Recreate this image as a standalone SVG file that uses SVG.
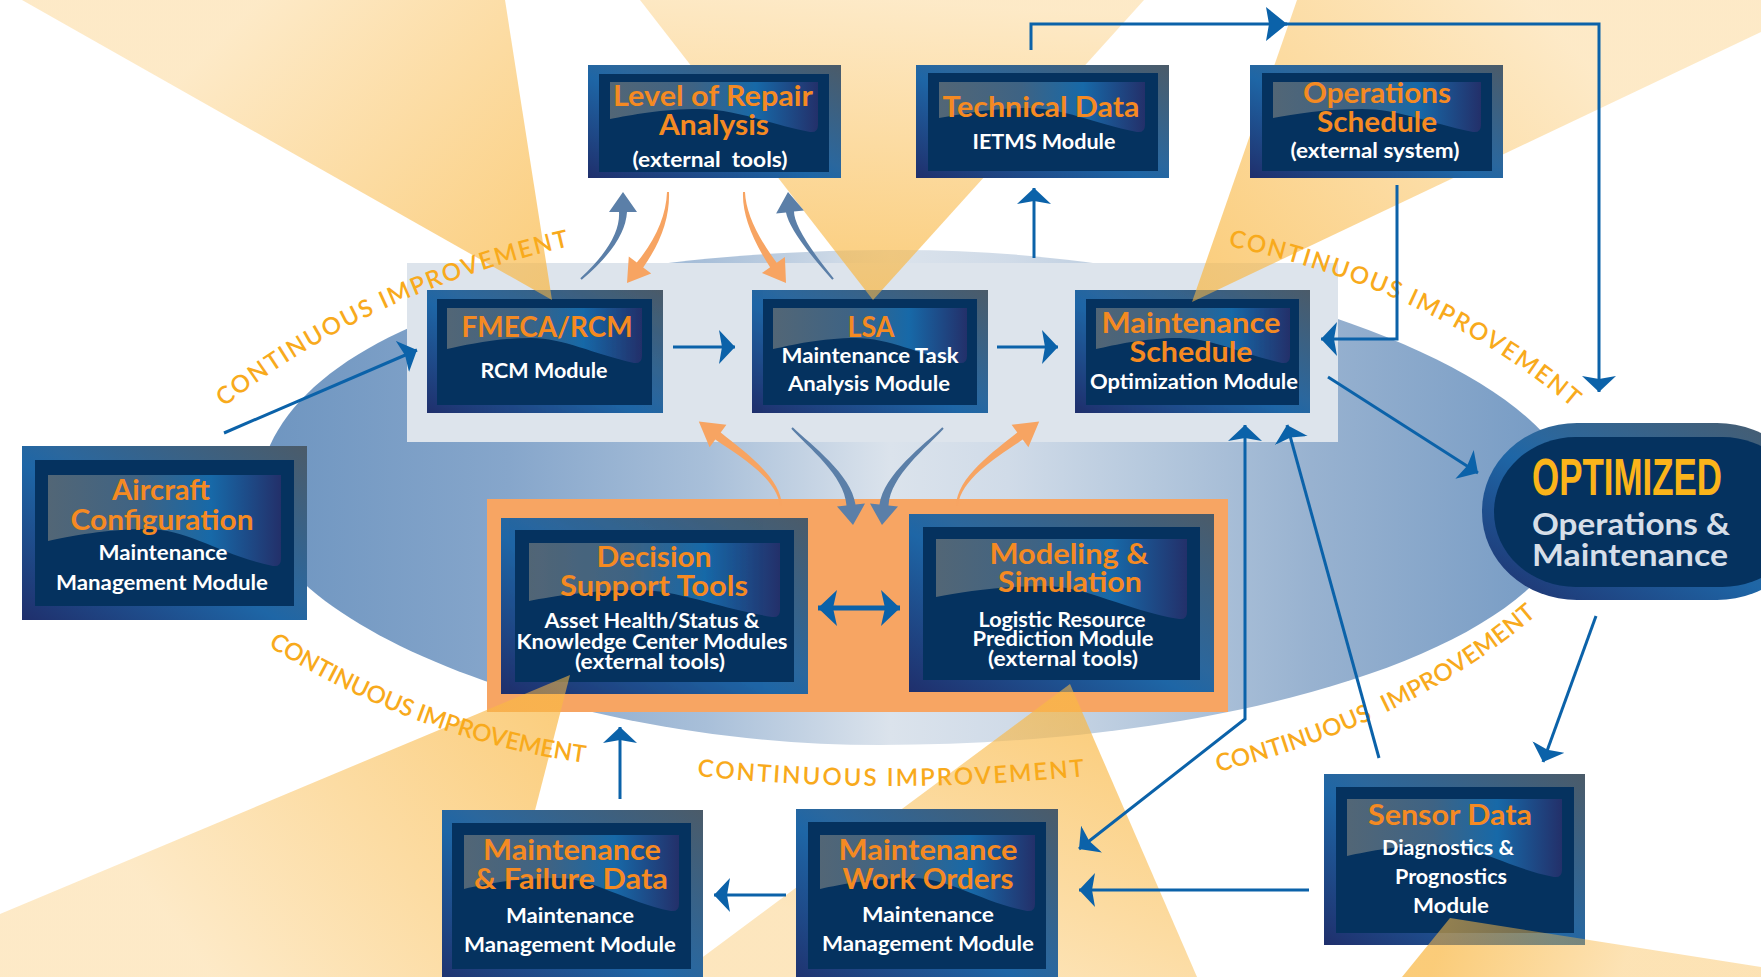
<svg xmlns="http://www.w3.org/2000/svg" width="1761" height="977" viewBox="0 0 1761 977">
<defs>
<style>
.t{font-family:Lato,"Open Sans","Liberation Sans",sans-serif;font-weight:700;text-anchor:middle}
.ti{fill:#f58a22;font-size:28px}
.sb{fill:#ffffff;font-size:21px}
.ci{fill:#f8aa1c;font-family:Lato,"Open Sans","Liberation Sans",sans-serif;font-size:24px;font-weight:600}
.fr{fill:url(#gF)}
.in{fill:#05325f}
.bn{fill:url(#gB)}
.ln{fill:none;stroke:#0b62a9;stroke-width:3}
.cb{fill:#5b7fa8}
.co{fill:#f7a462}
</style>
<linearGradient id="gF" x1="1" y1="0" x2="0" y2="1">
<stop offset="0" stop-color="#4b5b69"/><stop offset="0.45" stop-color="#2b679d"/><stop offset="0.55" stop-color="#1e66a6"/><stop offset="1" stop-color="#1f2f6c"/>
</linearGradient>
<linearGradient id="gB" x1="0" y1="0" x2="1" y2="0">
<stop offset="0" stop-color="#526676"/><stop offset="0.4" stop-color="#3e6384"/><stop offset="0.7" stop-color="#1769a8"/><stop offset="1" stop-color="#23306a"/>
</linearGradient>
<linearGradient id="gE" gradientUnits="userSpaceOnUse" x1="258" y1="0" x2="1575" y2="0">
<stop offset="0" stop-color="#6e95c0"/><stop offset="0.19" stop-color="#86a6cb"/><stop offset="0.34" stop-color="#a8bfd9"/><stop offset="0.48" stop-color="#dbe3ec"/><stop offset="0.57" stop-color="#d0dbe8"/><stop offset="0.68" stop-color="#b5c8dd"/><stop offset="0.8" stop-color="#98b2d0"/><stop offset="1" stop-color="#7399c3"/>
</linearGradient>
<linearGradient id="bA" gradientUnits="userSpaceOnUse" x1="552" y1="300" x2="260" y2="0"><stop offset="0" stop-color="#f9b845" stop-opacity="0.72"/><stop offset="1" stop-color="#f9b845" stop-opacity="0.3"/></linearGradient>
<linearGradient id="bB" gradientUnits="userSpaceOnUse" x1="873" y1="300" x2="892" y2="0"><stop offset="0" stop-color="#f9b845" stop-opacity="0.72"/><stop offset="1" stop-color="#f9b845" stop-opacity="0.3"/></linearGradient>
<linearGradient id="bC" gradientUnits="userSpaceOnUse" x1="1192" y1="302" x2="1529" y2="0"><stop offset="0" stop-color="#f9b845" stop-opacity="0.72"/><stop offset="1" stop-color="#f9b845" stop-opacity="0.3"/></linearGradient>
<linearGradient id="bD" gradientUnits="userSpaceOnUse" x1="570" y1="675" x2="200" y2="960"><stop offset="0" stop-color="#f9b845" stop-opacity="0.72"/><stop offset="1" stop-color="#f9b845" stop-opacity="0.3"/></linearGradient>
<linearGradient id="bE" gradientUnits="userSpaceOnUse" x1="1070" y1="684" x2="936" y2="977"><stop offset="0" stop-color="#f9b845" stop-opacity="0.72"/><stop offset="1" stop-color="#f9b845" stop-opacity="0.35"/></linearGradient>
<linearGradient id="bF" gradientUnits="userSpaceOnUse" x1="1450" y1="918" x2="1620" y2="977"><stop offset="0" stop-color="#f9b845" stop-opacity="0.72"/><stop offset="1" stop-color="#f9b845" stop-opacity="0.4"/></linearGradient>
<clipPath id="tgt">
<rect x="427" y="290" width="236" height="123"/><rect x="752" y="290" width="236" height="123"/><rect x="1075" y="290" width="235" height="123"/>
<rect x="501" y="518" width="307" height="176"/><rect x="909" y="514" width="305" height="178"/><rect x="1324" y="774" width="261" height="171"/>
</clipPath>
<marker id="ah" viewBox="0 0 16 34" refX="16" refY="17" markerWidth="16" markerHeight="34" orient="auto-start-reverse" markerUnits="userSpaceOnUse"><path d="M0,0 L16,17 L0,34 L3,17 Z" fill="#0b62a9"/></marker>
<marker id="ahL" viewBox="0 0 21 34" refX="21" refY="17" markerWidth="21" markerHeight="34" orient="auto" markerUnits="userSpaceOnUse"><path d="M0,0 L21,17 L0,34 L3,17 Z" fill="#0b62a9"/></marker>
<marker id="ahB" viewBox="0 0 19 36" refX="19" refY="18" markerWidth="19" markerHeight="36" orient="auto-start-reverse" markerUnits="userSpaceOnUse"><path d="M0,0 L19,18 L0,36 L4,18 Z" fill="#0b62a9"/></marker>
<path id="p1" d="M224,407 Q370,292 570,246 L620,234.5"/>
<path id="p2" d="M1228,246 Q1430,289 1568,404 L1606,436"/>
<path id="p3" d="M268,646 Q418,740 585,763 L635,770"/>
<path id="p4" d="M697,776 Q891,796 1085,776 L1135,771"/>
<path id="p5" d="M1218,772 Q1412,724 1540,612 L1578,579"/>
</defs>

<rect x="0" y="0" width="1761" height="977" fill="#ffffff"/>

<g id="background">
<path d="M258,500 C258,360 480,250 900,250 C1250,250 1575,380 1575,500 C1575,640 1250,745 880,745 C560,745 258,620 258,500 Z" fill="url(#gE)"/>
<rect x="407" y="263" width="931" height="179" fill="#dde4ec"/>
<rect x="487" y="499" width="741" height="213" fill="#f7a563"/>
</g>

<g id="beams">
<polygon points="22,0 505,0 552,300" fill="url(#bA)"/>
<polygon points="640,0 1144,0 873,300" fill="url(#bB)"/>
<polygon points="1297,0 1761,0 1761,32 1192,302" fill="url(#bC)"/>
<polygon points="570,675 0,914 0,977 492,977" fill="url(#bD)"/>
<polygon points="1070,684 676,977 1197,977" fill="url(#bE)"/>
<polygon points="1450,918 1402,977 1761,977 1761,967" fill="url(#bF)"/>
</g>

<g id="labels">
<text class="ci" letter-spacing="1.9"><textPath href="#p1">CONTINUOUS IMPROVEMENT</textPath></text>
<text class="ci" letter-spacing="1.9"><textPath href="#p2">CONTINUOUS IMPROVEMENT</textPath></text>
<text class="ci" letter-spacing="-0.2"><textPath href="#p3">CONTINUOUS IMPROVEMENT</textPath></text>
<text class="ci" letter-spacing="2.1"><textPath href="#p4">CONTINUOUS IMPROVEMENT</textPath></text>
<text class="ci" letter-spacing="0.3"><textPath href="#p5">CONTINUOUS <tspan dx="8">IMPROVEMENT</tspan></textPath></text>
</g>

<g id="n-lor">
<rect class="fr" x="588" y="65" width="253" height="113"/>
<rect class="in" x="599" y="74" width="230" height="98"/>
<path class="bn" d="M610,82 H818 V125 Q818,133 810,132 C766,123 735,109 699,109 C662,109 631,115 610,119 Z"/>
<text class="t ti" x="713" y="106" textLength="200" lengthAdjust="spacingAndGlyphs">Level of Repair</text>
<text class="t ti" x="714" y="135" textLength="110" lengthAdjust="spacingAndGlyphs">Analysis</text>
<text class="t sb" x="710" y="167" textLength="155" lengthAdjust="spacingAndGlyphs" style="white-space:pre">(external  tools)</text>
</g>

<g id="n-td">
<rect class="fr" x="916" y="65" width="253" height="113"/>
<rect class="in" x="928" y="73" width="230" height="98"/>
<path class="bn" d="M939,82 H1145 V125 Q1145,133 1137,132 C1093,123 1063,108 1028,108 C990,108 960,114 939,118 Z"/>
<text class="t ti" x="1041" y="117" textLength="197" lengthAdjust="spacingAndGlyphs">Technical Data</text>
<text class="t sb" x="1044" y="149" textLength="143" lengthAdjust="spacingAndGlyphs">IETMS Module</text>
</g>

<g id="n-os">
<rect class="fr" x="1250" y="65" width="253" height="113"/>
<rect class="in" x="1262" y="73" width="230" height="98"/>
<path class="bn" d="M1273,82 H1481 V125 Q1481,133 1473,132 C1429,123 1398,109 1362,109 C1325,109 1294,114 1273,118 Z"/>
<text class="t ti" x="1377" y="103" textLength="148" lengthAdjust="spacingAndGlyphs">Operations</text>
<text class="t ti" x="1377" y="132" textLength="120" lengthAdjust="spacingAndGlyphs">Schedule</text>
<text class="t sb" x="1375" y="158" textLength="169" lengthAdjust="spacingAndGlyphs">(external system)</text>
</g>

<g id="n-fmeca">
<rect class="fr" x="427" y="290" width="236" height="123"/>
<rect class="in" x="437" y="299" width="215" height="106"/>
<path class="bn" d="M447,308 H642 V356 Q642,364 634,363 C593,354 564,338 531,338 C496,338 466,345 447,349 Z"/>
<text class="t ti" x="547" y="337" textLength="171" lengthAdjust="spacingAndGlyphs">FMECA/RCM</text>
<text class="t sb" x="544" y="378" textLength="127" lengthAdjust="spacingAndGlyphs">RCM Module</text>
</g>

<g id="n-lsa">
<rect class="fr" x="752" y="290" width="236" height="123"/>
<rect class="in" x="763" y="299" width="214" height="106"/>
<path class="bn" d="M773,308 H967 V356 Q967,364 959,363 C918,354 889,338 856,338 C821,338 792,345 773,349 Z"/>
<text class="t ti" x="871" y="337" textLength="47" lengthAdjust="spacingAndGlyphs">LSA</text>
<text class="t sb" x="870" y="363" textLength="177" lengthAdjust="spacingAndGlyphs">Maintenance Task</text>
<text class="t sb" x="869" y="391" textLength="162" lengthAdjust="spacingAndGlyphs">Analysis Module</text>
</g>

<g id="n-msched">
<rect class="fr" x="1075" y="290" width="235" height="123"/>
<rect class="in" x="1086" y="299" width="213" height="106"/>
<path class="bn" d="M1096,308 H1290 V356 Q1290,364 1282,363 C1241,354 1212,338 1179,338 C1144,338 1115,345 1096,349 Z"/>
<text class="t ti" x="1191" y="333" textLength="179" lengthAdjust="spacingAndGlyphs">Maintenance</text>
<text class="t ti" x="1191" y="362" textLength="123" lengthAdjust="spacingAndGlyphs">Schedule</text>
<text class="t sb" x="1194" y="389" textLength="208" lengthAdjust="spacingAndGlyphs">Optimization Module</text>
</g>

<g id="n-ac">
<rect class="fr" x="22" y="446" width="285" height="174"/>
<rect class="in" x="35" y="460" width="259" height="146"/>
<path class="bn" d="M48,475 H281 V559 Q281,567 273,566 C223,556 188,529 148,529 C106,529 71,536 48,541 Z"/>
<text class="t ti" x="161" y="500" textLength="98" lengthAdjust="spacingAndGlyphs">Aircraft</text>
<text class="t ti" x="162" y="530" textLength="183" lengthAdjust="spacingAndGlyphs">Configuration</text>
<text class="t sb" x="163" y="560" textLength="129" lengthAdjust="spacingAndGlyphs">Maintenance</text>
<text class="t sb" x="162" y="590" textLength="212" lengthAdjust="spacingAndGlyphs">Management Module</text>
</g>

<g id="n-dst">
<rect class="fr" x="501" y="518" width="307" height="176"/>
<rect class="in" x="515" y="530" width="279" height="152"/>
<path class="bn" d="M529,543 H780 V610 Q780,618 772,617 C717,608 680,590 637,590 C592,590 554,596 529,601 Z"/>
<text class="t ti" x="654" y="567" textLength="115" lengthAdjust="spacingAndGlyphs">Decision</text>
<text class="t ti" x="654" y="596" textLength="188" lengthAdjust="spacingAndGlyphs">Support Tools</text>
<text class="t sb" x="652" y="628" textLength="215" lengthAdjust="spacingAndGlyphs">Asset Health/Status &amp;</text>
<text class="t sb" x="652" y="649" textLength="271" lengthAdjust="spacingAndGlyphs">Knowledge Center Modules</text>
<text class="t sb" x="650" y="669" textLength="150" lengthAdjust="spacingAndGlyphs">(external tools)</text>
</g>

<g id="n-mods">
<rect class="fr" x="909" y="514" width="305" height="178"/>
<rect class="in" x="923" y="527" width="277" height="153"/>
<path class="bn" d="M936,539 H1187 V612 Q1187,620 1179,619 C1124,610 1087,586 1044,586 C999,586 961,592 936,597 Z"/>
<text class="t ti" x="1069" y="564" textLength="159" lengthAdjust="spacingAndGlyphs">Modeling &amp;</text>
<text class="t ti" x="1070" y="592" textLength="144" lengthAdjust="spacingAndGlyphs">Simulation</text>
<text class="t sb" x="1062" y="627" textLength="167" lengthAdjust="spacingAndGlyphs">Logistic Resource</text>
<text class="t sb" x="1063" y="646" textLength="181" lengthAdjust="spacingAndGlyphs">Prediction Module</text>
<text class="t sb" x="1063" y="666" textLength="150" lengthAdjust="spacingAndGlyphs">(external tools)</text>
</g>

<g id="n-sd">
<rect class="fr" x="1324" y="774" width="261" height="171"/>
<rect class="in" x="1336" y="787" width="238" height="146"/>
<path class="bn" d="M1347,799 H1562 V870 Q1562,878 1554,877 C1508,868 1476,845 1440,845 C1401,845 1369,851 1347,856 Z"/>
<text class="t ti" x="1450" y="825" textLength="164" lengthAdjust="spacingAndGlyphs">Sensor Data</text>
<text class="t sb" x="1448" y="855" textLength="132" lengthAdjust="spacingAndGlyphs">Diagnostics &amp;</text>
<text class="t sb" x="1451" y="884" textLength="112" lengthAdjust="spacingAndGlyphs">Prognostics</text>
<text class="t sb" x="1451" y="913" textLength="76" lengthAdjust="spacingAndGlyphs">Module</text>
</g>

<g id="n-mfd">
<rect class="fr" x="442" y="810" width="261" height="180"/>
<rect class="in" x="452" y="823" width="239" height="146"/>
<path class="bn" d="M464,835 H679 V904 Q679,912 671,911 C625,902 593,878 557,878 C518,878 486,884 464,889 Z"/>
<text class="t ti" x="572" y="860" textLength="178" lengthAdjust="spacingAndGlyphs">Maintenance</text>
<text class="t ti" x="571" y="889" textLength="194" lengthAdjust="spacingAndGlyphs">&amp; Failure Data</text>
<text class="t sb" x="570" y="923" textLength="128" lengthAdjust="spacingAndGlyphs">Maintenance</text>
<text class="t sb" x="570" y="952" textLength="212" lengthAdjust="spacingAndGlyphs">Management Module</text>
</g>

<g id="n-mwo">
<rect class="fr" x="796" y="809" width="262" height="180"/>
<rect class="in" x="808" y="822" width="238" height="147"/>
<path class="bn" d="M820,835 H1035 V904 Q1035,912 1027,911 C981,902 949,878 913,878 C874,878 842,884 820,889 Z"/>
<text class="t ti" x="928" y="860" textLength="179" lengthAdjust="spacingAndGlyphs">Maintenance</text>
<text class="t ti" x="928" y="889" textLength="171" lengthAdjust="spacingAndGlyphs">Work Orders</text>
<text class="t sb" x="928" y="922" textLength="132" lengthAdjust="spacingAndGlyphs">Maintenance</text>
<text class="t sb" x="928" y="951" textLength="212" lengthAdjust="spacingAndGlyphs">Management Module</text>
</g>

<g id="n-opt">
<rect x="1482" y="423" width="330" height="177" rx="95" ry="88" fill="url(#gF)"/>
<rect x="1494" y="437" width="310" height="150" rx="82" ry="75" fill="#05325f"/>
<text x="1532" y="495" font-family="'Liberation Sans',Arial,sans-serif" font-weight="700" font-size="51" fill="#fbb41a" textLength="190" lengthAdjust="spacingAndGlyphs">OPTIMIZED</text>
<text x="1532" y="535" font-family="Lato,'Open Sans',sans-serif" font-weight="700" font-size="31" fill="#d6dee8" textLength="198" lengthAdjust="spacingAndGlyphs">Operations &amp;</text>
<text x="1532" y="566" font-family="Lato,'Open Sans',sans-serif" font-weight="700" font-size="31" fill="#d6dee8" textLength="196" lengthAdjust="spacingAndGlyphs">Maintenance</text>
</g>

<g id="beam-tips" clip-path="url(#tgt)" opacity="0.8">
<polygon points="22,0 505,0 552,300" fill="url(#bA)"/>
<polygon points="640,0 1144,0 873,300" fill="url(#bB)"/>
<polygon points="1297,0 1761,0 1761,32 1192,302" fill="url(#bC)"/>
<polygon points="570,675 0,914 0,977 492,977" fill="url(#bD)"/>
<polygon points="1070,684 676,977 1197,977" fill="url(#bE)"/>
<polygon points="1450,918 1402,977 1761,977 1761,967" fill="url(#bF)"/>
</g>

<g id="connectors">
<path class="cb" d="M580.3,278.3 Q620.9,240.7 619,212 L609,212 L623,192 L637,212 L627,212 Q625.1,243.3 581.7,279.8 Z"/>
<path class="co" d="M669,192 Q670.3,228.9 643.2,267.4 L651.2,273.4 L627,283 L628.8,256.6 L636.8,262.6 Q665.7,227.1 667,192 Z"/>
<path class="co" d="M745,192 Q746.3,222.1 776.7,262.7 L784.9,257 L786,283 L761.9,273 L770.1,267.3 Q741.7,223.9 743,192 Z"/>
<path class="cb" d="M832.2,279.7 Q789.8,232.4 786,212.4 L776.1,213.4 L788,192 L803.9,210.6 L794,211.6 Q794,229.7 833.8,278.4 Z"/>
<path class="co" d="M780,506 C777.1,478 739.2,456.1 715.3,439.6 L709.6,447.2 L698.8,421.6 L726.4,424.8 L720.7,432.4 C744.8,451.9 780.9,477 782,506 Z"/>
<path class="cb" d="M792.7,427.3 C811.2,445 851.5,474.7 855.5,504.6 L865,503.6 L853,525 L837,506.4 L846.5,505.5 C844.5,475.4 807.8,447 791.3,428.7 Z"/>
<path class="cb" d="M942.3,427.3 C923.8,445 883.5,474.7 879.5,504.6 L870,503.6 L882,525 L898,506.4 L888.5,505.5 C890.5,475.4 927.2,447 943.7,428.7 Z"/>
<path class="co" d="M958,506 C960.9,478 998.8,456.1 1022.7,439.6 L1028.4,447.2 L1039.2,421.6 L1011.6,424.8 L1017.3,432.4 C993.2,451.9 957.1,477 956,506 Z"/>
<path class="ln" d="M224,433 L417,350" marker-end="url(#ah)"/>
<path class="ln" d="M673,347 H735" marker-end="url(#ah)"/>
<path class="ln" d="M997,347 H1058" marker-end="url(#ah)"/>
<path class="ln" d="M1034,258 V188" marker-end="url(#ah)"/>
<path class="ln" d="M1031,50 V24 H1287" marker-end="url(#ahL)"/>
<path class="ln" d="M1285,24 H1599 V392" marker-end="url(#ah)"/>
<path class="ln" d="M1397,185 V339 H1321" marker-end="url(#ah)"/>
<path class="ln" d="M1328,377 L1478,473" marker-end="url(#ah)"/>
<path class="ln" d="M1596,616 L1543,762" marker-end="url(#ah)"/>
<path class="ln" d="M1379,758 L1287,425" marker-end="url(#ah)"/>
<path class="ln" d="M1245,425 V719 L1079,849" marker-start="url(#ah)" marker-end="url(#ah)"/>
<path class="ln" d="M1309,890 H1079" marker-end="url(#ah)"/>
<path class="ln" d="M786,895 H714" marker-end="url(#ah)"/>
<path class="ln" d="M620,799 V727" marker-end="url(#ah)"/>
<path class="ln" style="stroke-width:5" d="M818,608 H900" marker-start="url(#ahB)" marker-end="url(#ahB)"/>
</g>
</svg>
